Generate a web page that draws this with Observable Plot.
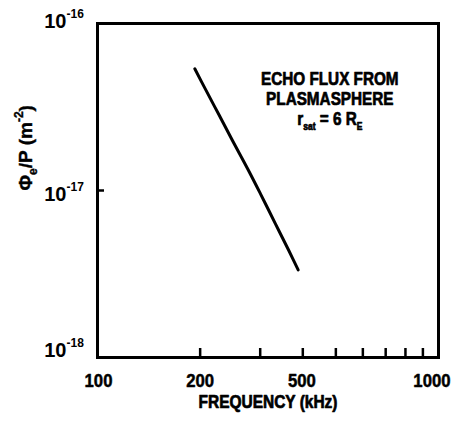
<!DOCTYPE html>
<html><head><meta charset="utf-8">
<script src="https://cdn.jsdelivr.net/npm/d3@7"></script>
<script src="https://cdn.jsdelivr.net/npm/@observablehq/plot@0.6"></script>
<style>body{margin:0;background:#fff} #chart svg{display:block}</style>
</head><body><div id="chart"></div>
<script>
// Echo flux curve (frequency in kHz, flux/power in m^-2)
const freqKHz = [192.9, 207.4, 226.9, 248.3, 276.3, 300.6, 318.0, 340.1, 363.9, 387.7];
const fluxPerPower = [5.36e-17, 4.03e-17, 2.85e-17, 2.006e-17, 1.336e-17, 9.55e-18, 7.59e-18, 5.76e-18, 4.37e-18, 3.35e-18];

// Axis ticks and labels as printed on the figure
const xInnerTicks = [200, 300, 400, 500, 600, 700, 800, 900];
const xTickValues = [100, 200, 400, 1000];
const xTickLabels = ["100", "200", "500", "1000"];
const yTickValues = [1e-16, 1e-17, 1e-18];
const yTickExponents = ["-16", "-17", "-18"];
const yInnerTicks = [1e-17];

const xTitle = "FREQUENCY (kHz)";
const yTitle = "Φe/P (m-2)";
const noteLines = ["ECHO FLUX FROM", "PLASMASPHERE", "rsat = 6 RE"];

const data = freqKHz.map((f, i) => ({f, v: fluxPerPower[i]}));

const W = 456, H = 422, mL = 97, mR = 18, mT = 23, mB = 65;
const plotW = W - mL - mR, plotH = H - mT - mB;
const font = "'Liberation Sans', Arial, Helvetica, sans-serif";

const yLabelDy = [-2, 4, -7];
const xLabelAnchor = ["middle", "middle", "middle", "end"];
const xLabelDx = [1, 0, -1, 12];
const noteDy = [56, 76, 96];

const txt = {fontWeight: "bold", fontFamily: font, fill: "black", lineAnchor: "middle"};
const heavy = {...txt, stroke: "black", strokeWidth: 0.7};

const marks = [
  Plot.frame({stroke: "black", strokeWidth: 3}),
  Plot.tickX(xInnerTicks, {x: d => d, stroke: "black", strokeWidth: 2.5, insetTop: plotH - 9}),
  Plot.tickY(yInnerTicks, {y: d => d, stroke: "black", strokeWidth: 2.5, insetRight: plotW - 7}),
  Plot.line(data, {x: "f", y: "v", stroke: "black", strokeWidth: 3, strokeLinecap: "round", curve: "catmull-rom"}),
  // y title
  Plot.text([yTitle], {...txt, stroke: "black", strokeWidth: 0.4, text: d => d, frameAnchor: "left", dx: -72, rotate: -90, fontSize: 19}),
  // x title
  Plot.text([xTitle], {...heavy, text: d => d, frameAnchor: "bottom", dy: 45, fontSize: 18, ariaDescription: "sx:0.86"}),
  // note
  ...noteLines.map((s, i) => Plot.text([s], {...heavy, text: d => d, x: () => 480, frameAnchor: "top", dy: noteDy[i], fontSize: 18, ariaDescription: "sx:0.85"}))
];

// x tick labels
xTickValues.forEach((v, i) => {
  marks.push(Plot.text([v], {...heavy, strokeWidth: 0.5, x: d => d, text: () => xTickLabels[i], frameAnchor: "bottom", dy: 23, dx: xLabelDx[i], textAnchor: xLabelAnchor[i], fontSize: 19, ariaDescription: "sx:0.88"}));
});
// y tick labels: base "10" and exponent
yTickValues.forEach((v, i) => {
  marks.push(Plot.text([v], {...txt, y: d => d, text: () => "10", frameAnchor: "left", textAnchor: "end", dx: -31, dy: yLabelDy[i], fontSize: 20}));
  marks.push(Plot.text([v], {...txt, y: d => d, text: () => yTickExponents[i], frameAnchor: "left", textAnchor: "start", dx: -31, dy: yLabelDy[i] - 7.5, fontSize: 12}));
});

const svg = Plot.plot({
  width: W, height: H,
  marginLeft: mL, marginRight: mR, marginTop: mT, marginBottom: mB,
  x: {type: "log", domain: [100, 1000], axis: null},
  y: {type: "log", domain: [1e-18, 1e-16], axis: null},
  style: {background: "white", color: "black"},
  marks
});

function richText(plain, parts, small) {
  d3.select(svg).selectAll("text").filter(function () { return this.textContent === plain; }).each(function () {
    const t = d3.select(this);
    t.text(null);
    let shift = 0;
    for (const [s, kind] of parts) {
      const target = kind === "sub" ? small * 0.45 : kind === "sup" ? -small * 0.75 : 0;
      const ts = t.append("tspan").attr("dy", target - shift).text(s);
      if (kind) ts.attr("font-size", small);
      shift = target;
    }
  });
}
richText(yTitle, [["Φ"], ["e", "sub"], ["/P (m"], ["-2", "sup"], [")"]], 12);
richText(noteLines[2], [["r"], ["sat", "sub"], [" = 6 R"], ["E", "sub"]], 10);

// horizontal condensing of the narrow typeface
d3.select(svg).selectAll("g[aria-description]").each(function () {
  const m = /sx:([\d.]+)/.exec(this.getAttribute("aria-description"));
  if (!m) return;
  d3.select(this).selectAll("text").each(function () {
    const tr = this.getAttribute("transform") || "";
    this.setAttribute("transform", tr + ` scale(${m[1]},1)`);
  });
});

document.getElementById("chart").appendChild(svg);
</script>
</body></html>
